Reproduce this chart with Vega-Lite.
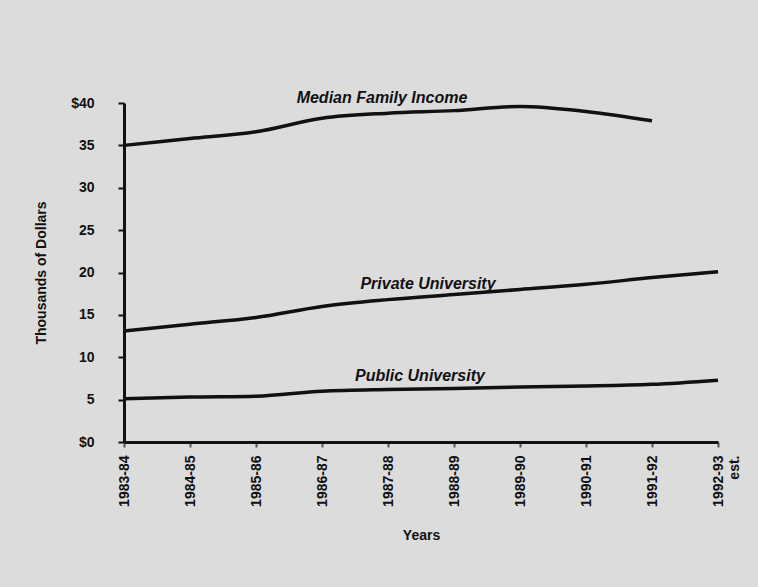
{
  "$schema": "https://vega.github.io/schema/vega-lite/v6.json",
  "width": 594,
  "height": 339,
  "autosize": {"type": "none"},
  "padding": {"left": 124, "top": 103, "right": 40, "bottom": 145},
  "background": "#dcdcdc",
  "config": {
    "view": {"stroke": null},
    "font": "Liberation Sans",
    "axis": {"domainColor": "#111", "domainWidth": 3, "tickColor": "#555", "labelColor": "#111", "titleColor": "#111", "labelFont": "Liberation Sans", "titleFont": "Liberation Sans", "labelFontWeight": "bold", "titleFontWeight": "bold", "grid": false}
  },
  "datasets": {
    "lines": [
      {"year": "1983-84", "series": "Median Family Income", "value": 35.0},
      {"year": "1984-85", "series": "Median Family Income", "value": 35.8},
      {"year": "1985-86", "series": "Median Family Income", "value": 36.6},
      {"year": "1986-87", "series": "Median Family Income", "value": 38.2},
      {"year": "1987-88", "series": "Median Family Income", "value": 38.8},
      {"year": "1988-89", "series": "Median Family Income", "value": 39.1},
      {"year": "1989-90", "series": "Median Family Income", "value": 39.6},
      {"year": "1990-91", "series": "Median Family Income", "value": 39.0},
      {"year": "1991-92", "series": "Median Family Income", "value": 37.9},
      {"year": "1983-84", "series": "Private University", "value": 13.1},
      {"year": "1984-85", "series": "Private University", "value": 13.9},
      {"year": "1985-86", "series": "Private University", "value": 14.7},
      {"year": "1986-87", "series": "Private University", "value": 16.0},
      {"year": "1987-88", "series": "Private University", "value": 16.8},
      {"year": "1988-89", "series": "Private University", "value": 17.4},
      {"year": "1989-90", "series": "Private University", "value": 18.0},
      {"year": "1990-91", "series": "Private University", "value": 18.6},
      {"year": "1991-92", "series": "Private University", "value": 19.4},
      {"year": "1992-93 est.", "series": "Private University", "value": 20.1},
      {"year": "1983-84", "series": "Public University", "value": 5.1},
      {"year": "1984-85", "series": "Public University", "value": 5.3},
      {"year": "1985-86", "series": "Public University", "value": 5.4},
      {"year": "1986-87", "series": "Public University", "value": 6.0},
      {"year": "1987-88", "series": "Public University", "value": 6.2},
      {"year": "1988-89", "series": "Public University", "value": 6.3},
      {"year": "1989-90", "series": "Public University", "value": 6.5},
      {"year": "1990-91", "series": "Public University", "value": 6.6},
      {"year": "1991-92", "series": "Public University", "value": 6.8},
      {"year": "1992-93 est.", "series": "Public University", "value": 7.3}
    ]
  },
  "layer": [
    {
      "data": {"name": "lines"},
      "mark": {"type": "line", "color": "#111", "strokeWidth": 3.5, "interpolate": "monotone"},
      "encoding": {
        "x": {
          "field": "year", "type": "ordinal",
          "scale": {"type": "point", "padding": 0},
          "sort": null,
          "axis": {"title": "Years", "labelAngle": 270, "labelFontSize": 14, "labelPadding": 8, "labelLineHeight": 16, "tickSize": 5, "tickWidth": 2, "titleFontSize": 14, "titlePadding": 22, "labelLimit": 120,
            "labelExpr": "datum.value == '1992-93 est.' ? ['1992-93', 'est.'] : datum.label"}
        },
        "y": {
          "field": "value", "type": "quantitative",
          "scale": {"domain": [0, 40], "nice": false},
          "axis": {"title": "Thousands of Dollars", "values": [0, 5, 10, 15, 20, 25, 30, 35, 40], "labelExpr": "datum.value == 40 || datum.value == 0 ? '$' + datum.value : datum.label", "labelFontSize": 14, "labelPadding": 24, "tickSize": 6, "tickWidth": 2, "tickColor": "#111", "titleFontSize": 14, "titlePadding": 22}
        },
        "detail": {"field": "series"}
      }
    },
    {
      "data": {"values": [{"year": "1987-88", "value": 40.6, "label": "Median Family Income"}]},
      "mark": {"type": "text", "font": "Liberation Sans", "fontStyle": "italic", "fontWeight": "bold", "fontSize": 16, "color": "#111", "align": "center", "dx": -6},
      "encoding": {"x": {"field": "year", "type": "ordinal"}, "y": {"field": "value", "type": "quantitative"}, "text": {"field": "label"}}
    },
    {
      "data": {"values": [{"year": "1988-89", "value": 18.6, "label": "Private University"}]},
      "mark": {"type": "text", "font": "Liberation Sans", "fontStyle": "italic", "fontWeight": "bold", "fontSize": 16, "color": "#111", "align": "center", "dx": -26},
      "encoding": {"x": {"field": "year", "type": "ordinal"}, "y": {"field": "value", "type": "quantitative"}, "text": {"field": "label"}}
    },
    {
      "data": {"values": [{"year": "1988-89", "value": 7.8, "label": "Public University"}]},
      "mark": {"type": "text", "font": "Liberation Sans", "fontStyle": "italic", "fontWeight": "bold", "fontSize": 16, "color": "#111", "align": "center", "dx": -34},
      "encoding": {"x": {"field": "year", "type": "ordinal"}, "y": {"field": "value", "type": "quantitative"}, "text": {"field": "label"}}
    }
  ]
}
